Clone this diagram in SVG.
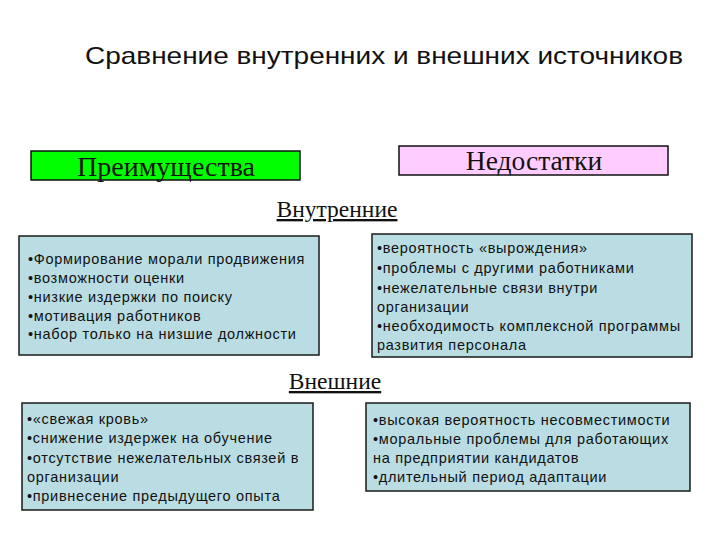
<svg xmlns="http://www.w3.org/2000/svg" width="720" height="540" viewBox="0 0 720 540">
<style>
.box{fill:#BADDE3;stroke:#1a1a1a;stroke-width:1.5}
.t{font-family:"Liberation Sans",Arial,sans-serif;font-size:14.5px;letter-spacing:0.7px;fill:#111}
.h{font-family:"Liberation Serif","Times New Roman",serif;fill:#111}
</style>
<rect width="720" height="540" fill="#fff"/>
<g id="title"><text x="384" y="64" text-anchor="middle" font-family="Liberation Sans, Arial, sans-serif" font-size="24" fill="#111" textLength="598" lengthAdjust="spacingAndGlyphs">Сравнение внутренних и внешних источников</text></g>
<g id="adv"><rect x="31" y="151" width="269" height="29" fill="#00FF00" stroke="#111" stroke-width="1.5"/><text class="h" x="166" y="176" text-anchor="middle" font-size="28">Преимущества</text></g>
<g id="dis"><rect x="399" y="146" width="269" height="29" fill="#FFCCFF" stroke="#111" stroke-width="1.5"/><text class="h" x="534" y="170" text-anchor="middle" font-size="27.5">Недостатки</text></g>
<g id="internal"><text class="h" x="337" y="217" text-anchor="middle" font-size="23.5" text-decoration="underline">Внутренние</text></g>
<g id="external"><text class="h" x="335" y="389" text-anchor="middle" font-size="23.5" text-decoration="underline">Внешние</text></g>
<g id="int-adv"><rect class="box" x="19" y="236" width="300" height="119"/>
<text class="t" x="28" y="264">•Формирование морали продвижения</text>
<text class="t" x="28" y="283">•возможности оценки</text>
<text class="t" x="28" y="302">•низкие издержки по поиску</text>
<text class="t" x="28" y="321">•мотивация работников</text>
<text class="t" x="28" y="339">•набор только на низшие  должности</text></g>
<g id="int-dis"><rect class="box" x="372" y="234" width="320" height="123"/>
<text class="t" x="377" y="253">•вероятность «вырождения»</text>
<text class="t" x="377" y="273">•проблемы с другими работниками</text>
<text class="t" x="377" y="293">•нежелательные связи внутри</text>
<text class="t" x="377" y="312">организации</text>
<text class="t" x="377" y="331">•необходимость комплексной программы</text>
<text class="t" x="377" y="350">развития персонала</text></g>
<g id="ext-adv"><rect class="box" x="22" y="403" width="291" height="107"/>
<text class="t" x="27" y="424">•«свежая кровь»</text>
<text class="t" x="27" y="443">•снижение издержек на обучение</text>
<text class="t" x="27" y="463">•отсутствие нежелательных связей в</text>
<text class="t" x="27" y="482">организации</text>
<text class="t" x="27" y="501">•привнесение предыдущего опыта</text></g>
<g id="ext-dis"><rect class="box" x="366" y="403" width="324" height="88"/>
<text class="t" x="373" y="425">•высокая вероятность несовместимости</text>
<text class="t" x="373" y="444">•моральные проблемы для работающих</text>
<text class="t" x="373" y="463">на предприятии кандидатов</text>
<text class="t" x="373" y="482">•длительный период адаптации</text></g>
<g id="connectors"/>
</svg>
